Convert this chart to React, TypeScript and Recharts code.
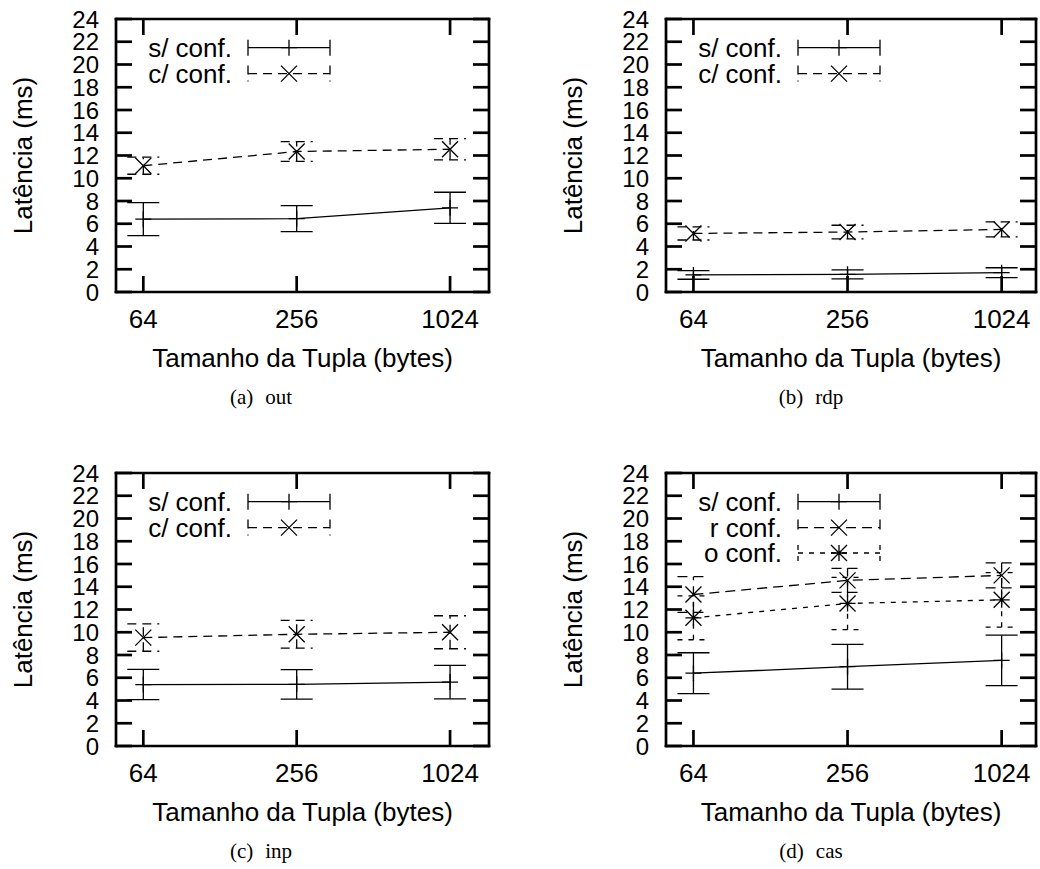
import React from 'react';
import { LineChart, Line, XAxis, YAxis, ErrorBar, Legend } from 'recharts';

// ---------- data ----------
const tupleSizes = [64, 256, 1024];
const latencyTicks = [0, 2, 4, 6, 8, 10, 12, 14, 16, 18, 20, 22, 24];

// (a) out
const outSemConf = [6.4, 6.45, 7.4];
const outSemConfErr = [1.45, 1.15, 1.37];
const outComConf = [11.1, 12.35, 12.55];
const outComConfErr = [0.75, 0.87, 0.93];
// (b) rdp
const rdpSemConf = [1.5, 1.55, 1.7];
const rdpSemConfErr = [0.38, 0.4, 0.43];
const rdpComConf = [5.15, 5.27, 5.5];
const rdpComConfErr = [0.58, 0.6, 0.66];
// (c) inp
const inpSemConf = [5.4, 5.42, 5.62];
const inpSemConfErr = [1.33, 1.3, 1.47];
const inpComConf = [9.53, 9.82, 10.0];
const inpComConfErr = [1.2, 1.22, 1.45];
// (d) cas
const casSemConf = [6.4, 6.97, 7.52];
const casSemConfErr = [1.8, 1.97, 2.22];
const casRConf = [13.32, 14.56, 15.0];
const casRConfErr = [1.57, 1.06, 1.1];
const casOConf = [11.27, 12.53, 12.85];
const casOConfErr = [1.93, 2.3, 2.4];

const xTitle = 'Tamanho da Tupla (bytes)';
const yTitle = 'Latência (ms)';

// ---------- styling ----------
const SANS = '"Liberation Sans", Arial, Helvetica, sans-serif';
const SERIF = '"Liberation Serif", "Times New Roman", serif';
const TICK = 16;
const FRAME_W = 2.7;
const LINE_W = 1.3;

type MarkerKind = 'plus' | 'cross' | 'star';
type Series = {
  key: string;
  name: string;
  values: number[];
  errors: number[];
  dash?: string;
  marker: MarkerKind;
};

function markerPath(kind: MarkerKind, cx: number, cy: number): string {
  const h = 8;
  const plus = `M${cx - h},${cy}H${cx + h}M${cx},${cy - h}V${cy + h}`;
  const cross = `M${cx - h},${cy - h}L${cx + h},${cy + h}M${cx - h},${cy + h}L${cx + h},${cy - h}`;
  if (kind === 'plus') return plus;
  if (kind === 'cross') return cross;
  return plus + cross;
}

const makeDot = (kind: MarkerKind) => (props: any) => {
  const { cx, cy, index, dataKey } = props;
  if (cx == null || cy == null) return <g key={`${dataKey}-${index}`} />;
  return (
    <path
      key={`${dataKey}-${index}`}
      d={markerPath(kind, cx, cy)}
      stroke="#000"
      strokeWidth={LINE_W}
      fill="none"
    />
  );
};

const LeftTick = (props: any) => {
  const { x, y, payload } = props;
  return (
    <g>
      <line x1={x} x2={x + TICK} y1={y} y2={y} stroke="#000" strokeWidth={FRAME_W} />
      <text x={x - 17} y={y + 8.5} textAnchor="end" fontSize={24} fill="#000" fontFamily={SANS}>
        {payload.value}
      </text>
    </g>
  );
};

const RightTick = (props: any) => {
  const { x, y } = props;
  return <line x1={x - TICK} x2={x} y1={y} y2={y} stroke="#000" strokeWidth={FRAME_W} />;
};

const BottomTick = (props: any) => {
  const { x, y, payload } = props;
  return (
    <g>
      <line x1={x} x2={x} y1={y} y2={y - TICK} stroke="#000" strokeWidth={FRAME_W} />
      <text x={x} y={y + 36} textAnchor="middle" fontSize={26} fill="#000" fontFamily={SANS}>
        {payload.value}
      </text>
    </g>
  );
};

const TopTick = (props: any) => {
  const { x, y } = props;
  return <line x1={x} x2={x} y1={y} y2={y + TICK} stroke="#000" strokeWidth={FRAME_W} />;
};

const axisLine = { stroke: '#000', strokeWidth: FRAME_W, strokeLinecap: 'square' as const };

const LEGEND_ROWS = [28.7, 54.6, 80];

function LegendBox({ series }: { series: Series[] }) {
  return (
    <svg width={230} height={100} style={{ display: 'block', overflow: 'visible' }}>
      {series.map((s, i) => {
        const y = LEGEND_ROWS[i];
        const x1 = 132;
        const x2 = 214;
        const mx = 173;
        return (
          <g key={s.key}>
            <text x={116} y={y + 9.3} textAnchor="end" fontSize={26} fill="#000" fontFamily={SANS}>
              {s.name}
            </text>
            <line x1={x1} x2={x2} y1={y} y2={y} stroke="#000" strokeWidth={LINE_W} strokeDasharray={s.dash} />
            <line x1={x1} x2={x1} y1={y - 8} y2={y + 8} stroke="#000" strokeWidth={LINE_W} strokeDasharray={s.dash} />
            <line x1={x2} x2={x2} y1={y - 8} y2={y + 8} stroke="#000" strokeWidth={LINE_W} strokeDasharray={s.dash} />
            <path d={markerPath(s.marker, mx, y)} stroke="#000" strokeWidth={LINE_W} fill="none" />
          </g>
        );
      })}
    </svg>
  );
}

function Panel({
  left,
  top,
  plotWidth,
  xMax,
  series,
}: {
  left: number;
  top: number;
  plotWidth: number;
  xMax: number;
  series: Series[];
}) {
  const wL = 116;
  const wR = 4;
  const hT = 19;
  const plotH = 273;
  const hB = 90;
  const W = wL + plotWidth + wR;
  const H = hT + plotH + hB;

  const data = tupleSizes.map((size, i) => {
    const row: Record<string, number> = { size };
    series.forEach((s) => {
      row[s.key] = s.values[i];
      row[`${s.key}Err`] = s.errors[i];
    });
    return row;
  });

  return (
    <div style={{ position: 'absolute', left, top, width: W, height: H }}>
      <LineChart
        width={W}
        height={H}
        data={data}
        margin={{ top: 0, right: 0, bottom: 0, left: 0 }}
        style={{ fontFamily: SANS }}
      >
        <XAxis
          dataKey="size"
          type="number"
          scale="log"
          domain={[50, xMax]}
          allowDataOverflow
          ticks={tupleSizes}
          interval={0}
          height={hB}
          tickSize={0}
          tickMargin={0}
          tick={<BottomTick />}
          axisLine={axisLine}
          label={{
            value: xTitle,
            position: 'insideBottom',
            offset: 15,
            style: { fontSize: 26, fill: '#000', fontFamily: SANS },
          }}
        />
        <XAxis
          xAxisId="top"
          orientation="top"
          dataKey="size"
          type="number"
          scale="log"
          domain={[50, xMax]}
          allowDataOverflow
          ticks={tupleSizes}
          interval={0}
          height={hT}
          tickSize={0}
          tickMargin={0}
          tick={<TopTick />}
          axisLine={axisLine}
        />
        <YAxis
          type="number"
          domain={[0, 24]}
          allowDataOverflow
          ticks={latencyTicks}
          interval={0}
          width={wL}
          tickSize={0}
          tickMargin={0}
          tick={<LeftTick />}
          axisLine={axisLine}
          label={{
            value: yTitle,
            angle: -90,
            position: 'insideLeft',
            offset: 23,
            style: { fontSize: 26, fill: '#000', fontFamily: SANS, textAnchor: 'middle' },
          }}
        />
        <YAxis
          yAxisId="right"
          orientation="right"
          type="number"
          domain={[0, 24]}
          allowDataOverflow
          ticks={latencyTicks}
          interval={0}
          width={wR}
          tickSize={0}
          tickMargin={0}
          tick={<RightTick />}
          axisLine={axisLine}
        />
        {series.map((s) => (
          <Line
            key={s.key}
            dataKey={s.key}
            name={s.name}
            type="linear"
            stroke="#000"
            strokeWidth={LINE_W}
            strokeDasharray={s.dash}
            dot={makeDot(s.marker)}
            activeDot={false}
            isAnimationActive={false}
          >
            <ErrorBar
              dataKey={`${s.key}Err`}
              width={16}
              stroke="#000"
              strokeWidth={LINE_W}
              strokeDasharray={s.dash}
              direction="y"
              isAnimationActive={false}
            />
          </Line>
        ))}
        <Legend
          layout="vertical"
          align="center"
          verticalAlign="middle"
          content={() => <LegendBox series={series} />}
          wrapperStyle={{ position: 'absolute', left: wL, top: hT, width: 230, height: 100 }}
        />
      </LineChart>
    </div>
  );
}

const panelA: Series[] = [
  { key: 'sem', name: 's/ conf.', values: outSemConf, errors: outSemConfErr, marker: 'plus' },
  { key: 'com', name: 'c/ conf.', values: outComConf, errors: outComConfErr, dash: '9 6', marker: 'cross' },
];
const panelB: Series[] = [
  { key: 'sem', name: 's/ conf.', values: rdpSemConf, errors: rdpSemConfErr, marker: 'plus' },
  { key: 'com', name: 'c/ conf.', values: rdpComConf, errors: rdpComConfErr, dash: '9 6', marker: 'cross' },
];
const panelC: Series[] = [
  { key: 'sem', name: 's/ conf.', values: inpSemConf, errors: inpSemConfErr, marker: 'plus' },
  { key: 'com', name: 'c/ conf.', values: inpComConf, errors: inpComConfErr, dash: '9 6', marker: 'cross' },
];
const panelD: Series[] = [
  { key: 'sem', name: 's/ conf.', values: casSemConf, errors: casSemConfErr, marker: 'plus' },
  { key: 'r', name: 'r conf.', values: casRConf, errors: casRConfErr, dash: '10 6', marker: 'cross' },
  { key: 'o', name: 'o conf.', values: casOConf, errors: casOConfErr, dash: '5 6', marker: 'star' },
];

function Caption({ cx, cy, tag, text }: { cx: number; cy: number; tag: string; text: string }) {
  return (
    <div
      style={{
        position: 'absolute',
        left: cx - 100,
        top: cy - 14,
        width: 200,
        height: 28,
        lineHeight: '28px',
        textAlign: 'center',
        fontFamily: SERIF,
        fontSize: 21,
        color: '#000',
      }}
    >
      <span>{tag}</span>
      <span style={{ marginLeft: 12 }}>{text}</span>
    </div>
  );
}

export default function App() {
  return (
    <div
      style={{
        position: 'absolute',
        left: 0,
        top: 0,
        width: 1040,
        height: 869,
        background: '#fff',
        overflow: 'hidden',
      }}
    >
      <Panel left={0} top={0} plotWidth={373} xMax={1456} series={panelA} />
      <Panel left={550} top={0} plotWidth={370} xMax={1395} series={panelB} />
      <Panel left={0} top={454} plotWidth={373} xMax={1456} series={panelC} />
      <Panel left={550} top={454} plotWidth={370} xMax={1395} series={panelD} />
      <Caption cx={261} cy={397} tag="(a)" text="out" />
      <Caption cx={811} cy={397} tag="(b)" text="rdp" />
      <Caption cx={261} cy={851} tag="(c)" text="inp" />
      <Caption cx={811} cy={851} tag="(d)" text="cas" />
    </div>
  );
}
